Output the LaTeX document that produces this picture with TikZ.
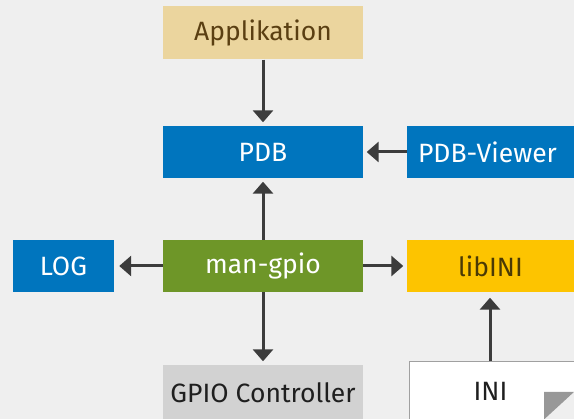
\documentclass[tikz,border=0pt]{standalone}
\usepackage{fontspec}
\setmainfont{Fira Sans}
\usetikzlibrary{arrows.meta}
\definecolor{bgc}{HTML}{EFEFEF}
\definecolor{appfill}{HTML}{EBD59E}
\definecolor{apptext}{HTML}{5A3F12}
\definecolor{pdbblue}{HTML}{0075BE}
\definecolor{gpiogreen}{HTML}{6E9628}
\definecolor{libyellow}{HTML}{FDC400}
\definecolor{libtext}{HTML}{4A3A05}
\definecolor{ctrlgray}{HTML}{D2D2D2}
\definecolor{inigray}{HTML}{A0A0A0}
\definecolor{arrowc}{HTML}{3C3C3C}
\tikzset{
  box/.style={rectangle, inner sep=0pt, minimum height=52pt, font=\fontsize{26.5}{30}\selectfont},
  conn/.style={draw=arrowc, line width=3pt, -{Triangle[width=20pt,length=12pt]}, shorten >=3.5pt}
}
\begin{document}
\begin{tikzpicture}[x=1pt,y=-1pt]
\fill[bgc] (0,0) rectangle (574,419);
\useasboundingbox (0,0) rectangle (574,419);
\node[box, fill=appfill, text=apptext, minimum width=200pt, minimum height=53pt] (app) at (263,33) {Applikation};
\node[box, fill=pdbblue, text=white, minimum width=200pt] (pdb) at (263,152) {PDB};
\node[box, fill=pdbblue, text=white, minimum width=170pt] (viewer) at (492,152) {\hspace*{-9pt}PDB-Viewer};
\node[box, fill=pdbblue, text=white, minimum width=101pt] (log) at (63.5,266) {LOG};
\node[box, fill=gpiogreen, text=white, minimum width=200pt] (mangpio) at (263,266) {man-gpio};
\node[box, fill=libyellow, text=libtext, minimum width=170pt] (libini) at (492,266.5) {\hspace*{-3pt}libINI};
\node[box, fill=ctrlgray, text=black!88, minimum width=200pt, minimum height=60pt] (ctrl) at (263,395) {\raisebox{4pt}{GPIO Controller}};
\node[box, fill=white, draw=inigray, line width=1pt, text=black!88, minimum width=170pt, minimum height=62pt] (ini) at (494,393) {\hspace*{-7pt}\raisebox{4pt}{INI}};
\fill[bgc] (544,419.5) -- (574.5,392) -- (574.5,419.5) -- cycle;
\fill[inigray!95!black] (544,392) -- (574,392) -- (544,419.5) -- cycle;
\draw[conn] (app.south) -- (pdb.north);
\draw[conn] (mangpio.north) -- (pdb.south);
\draw[conn] (viewer.west) -- (pdb.east);
\draw[conn, shorten >=5pt] (mangpio.west) -- (log.east);
\draw[conn] (mangpio.east) -- (mangpio.east -| libini.west);
\draw[conn] (mangpio.south) -- (ctrl.north);
\draw[conn, shorten >=5pt] (ini.north -| 490,0) -- (libini.south -| 490,0);
\end{tikzpicture}
\end{document}
